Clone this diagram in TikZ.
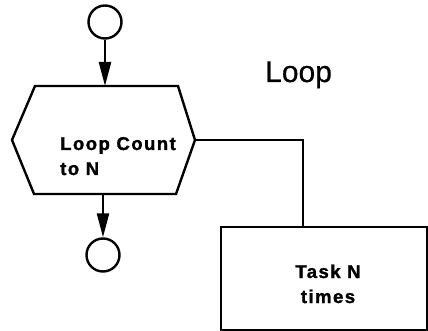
\documentclass[tikz,border=0pt]{standalone}
\usepackage{fontspec}
\setmainfont{Liberation Sans}
\usetikzlibrary{arrows.meta}
\begin{document}
\begin{tikzpicture}[x=1pt,y=-1pt,
  every path/.style={line width=2.4pt},
  term/.style={circle,draw,line width=2.4pt,minimum size=33pt,inner sep=0pt},
  flow/.style={-{Triangle[length=24pt,width=12pt]}},
  wire/.style={line join=miter},
  lbl/.style={font=\fontsize{18.5}{25}\selectfont\bfseries\addfontfeature{LetterSpace=8,FakeBold=1.5},inner sep=0pt},
  ]
\useasboundingbox (0,0) rectangle (428,331);
% terminals
\node[term] (start) at (105,22) {};
\node[term] (stop) at (103,255) {};
% loop hexagon
\coordinate (hTop) at (105,86);
\coordinate (hBot) at (103,194);
\coordinate (hRight) at (195,140);
\draw[wire] (35,86) -- (178,86) -- (hRight) -- (176,194) -- (34,194) -- (12,140) -- cycle;
\node[lbl,align=left,anchor=base west] (loop) at (59,175) {Loop Count\\to N};
% task box
\node[draw,line width=2.4pt,minimum width=206pt,minimum height=103pt,anchor=north west,inner sep=0pt] (task) at (220,226) {};
\node[lbl,align=center,anchor=base] (tasktxt) at (328,303) {Task N\\times};
% title
\node[font=\fontsize{30}{32}\selectfont\addfontfeature{FakeBold=0.6},anchor=base west,inner sep=0pt] (title) at (264,82) {Loop};
% connectors
\draw[flow] (start.south) -- (hTop);
\draw[flow] (hBot) -- (stop.north);
\draw[wire] (hRight) -- (303,140) -- (303,226);
\end{tikzpicture}
\end{document}
